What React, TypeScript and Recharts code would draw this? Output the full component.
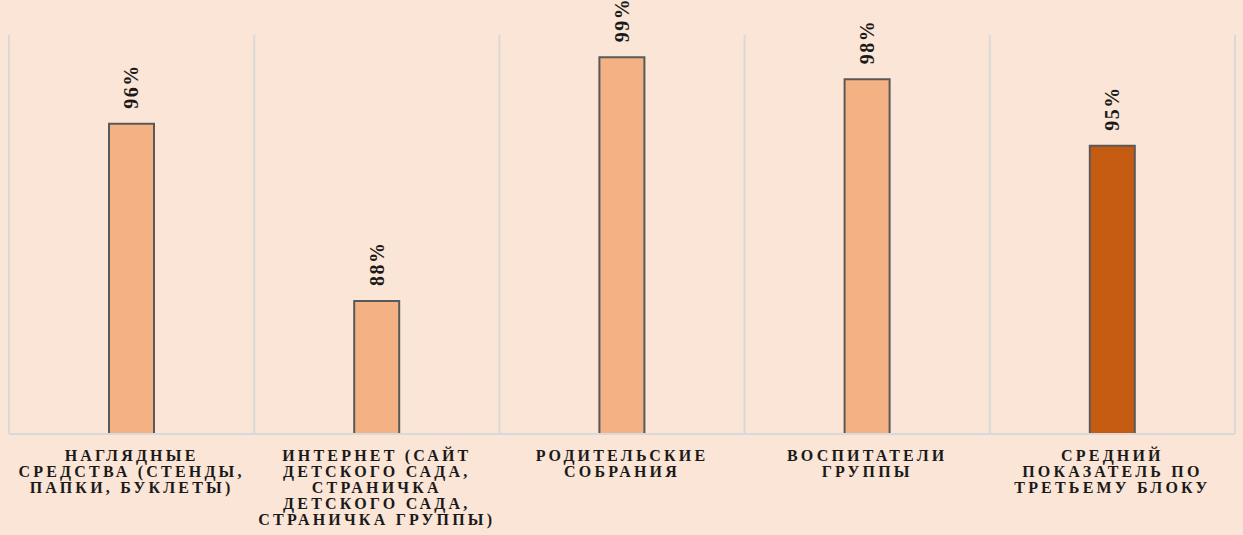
import { BarChart, Bar, XAxis, YAxis, CartesianGrid, Cell, LabelList } from 'recharts';

const categories = [
  'Наглядные средства',
  'Интернет',
  'Родительские собрания',
  'Воспитатели группы',
  'Средний показатель',
];
const values = [96, 88, 99, 98, 95];
const tickLines = [
  ['НАГЛЯДНЫЕ', 'СРЕДСТВА (СТЕНДЫ,', 'ПАПКИ, БУКЛЕТЫ)'],
  ['ИНТЕРНЕТ (САЙТ', 'ДЕТСКОГО САДА,', 'СТРАНИЧКА', 'ДЕТСКОГО САДА,', 'СТРАНИЧКА ГРУППЫ)'],
  ['РОДИТЕЛЬСКИЕ', 'СОБРАНИЯ'],
  ['ВОСПИТАТЕЛИ', 'ГРУППЫ'],
  ['СРЕДНИЙ', 'ПОКАЗАТЕЛЬ ПО', 'ТРЕТЬЕМУ БЛОКУ'],
];
const barColors = ['#F4B183', '#F4B183', '#F4B183', '#F4B183', '#C55A11'];

const data = categories.map((name, i) => ({ name, value: values[i], idx: i }));

const serif = '"Liberation Serif", "Times New Roman", serif';

const CategoryTick = (props: any) => {
  const { x, y, index } = props;
  const lines = tickLines[index] || [];
  return (
    <g transform={`translate(${x},${y})`}>
      <text
        textAnchor="middle"
        fontFamily={serif}
        fontWeight="bold"
        fontSize={16}
        letterSpacing={3.2}
        fill="#1a1a1a"
      >
        {lines.map((l, i) => (
          <tspan key={i} x={0} y={19 + i * 16}>
            {l}
          </tspan>
        ))}
      </text>
    </g>
  );
};

const ValueLabel = (props: any) => {
  const { x, y, width, value } = props;
  const cx = x + width / 2;
  const cy = y - 15;
  return (
    <text
      x={cx}
      y={cy}
      transform={`rotate(-90, ${cx}, ${cy})`}
      textAnchor="start"
      dominantBaseline="central"
      fontFamily={serif}
      fontWeight="bold"
      fontSize={20}
      letterSpacing={1.5}
      fill="#1a1a1a"
    >
      {`${value}%`}
    </text>
  );
};

export default function App() {
  return (
    <div
      style={{
        position: 'fixed',
        top: 0,
        left: 0,
        width: 1243,
        height: 535,
        background: '#FBE5D6',
        overflow: 'hidden',
      }}
    >
      <BarChart
        width={1243}
        height={535}
        data={data}
        margin={{ top: 35, right: 8, left: 9, bottom: 0 }}
        barCategoryGap={0}
      >
        <CartesianGrid
          horizontal={false}
          stroke="#D9D9D9"
          strokeWidth={2}
          verticalCoordinatesGenerator={({ offset }: any) =>
            categories
              .map((_, i) => offset.left + (i * offset.width) / categories.length)
              .concat(offset.left + offset.width)
          }
        />
        <XAxis
          dataKey="name"
          axisLine={{ stroke: '#D9D9D9', strokeWidth: 2 }}
          tickLine={false}
          height={101}
          interval={0}
          tick={<CategoryTick />}
        />
        <YAxis hide domain={[82, 100]} />
        <Bar dataKey="value" barSize={45} stroke="#595959" strokeWidth={2} isAnimationActive={false}>
          {data.map((d) => (
            <Cell key={d.idx} fill={barColors[d.idx]} />
          ))}
          <LabelList dataKey="value" content={<ValueLabel />} />
        </Bar>
      </BarChart>
    </div>
  );
}
